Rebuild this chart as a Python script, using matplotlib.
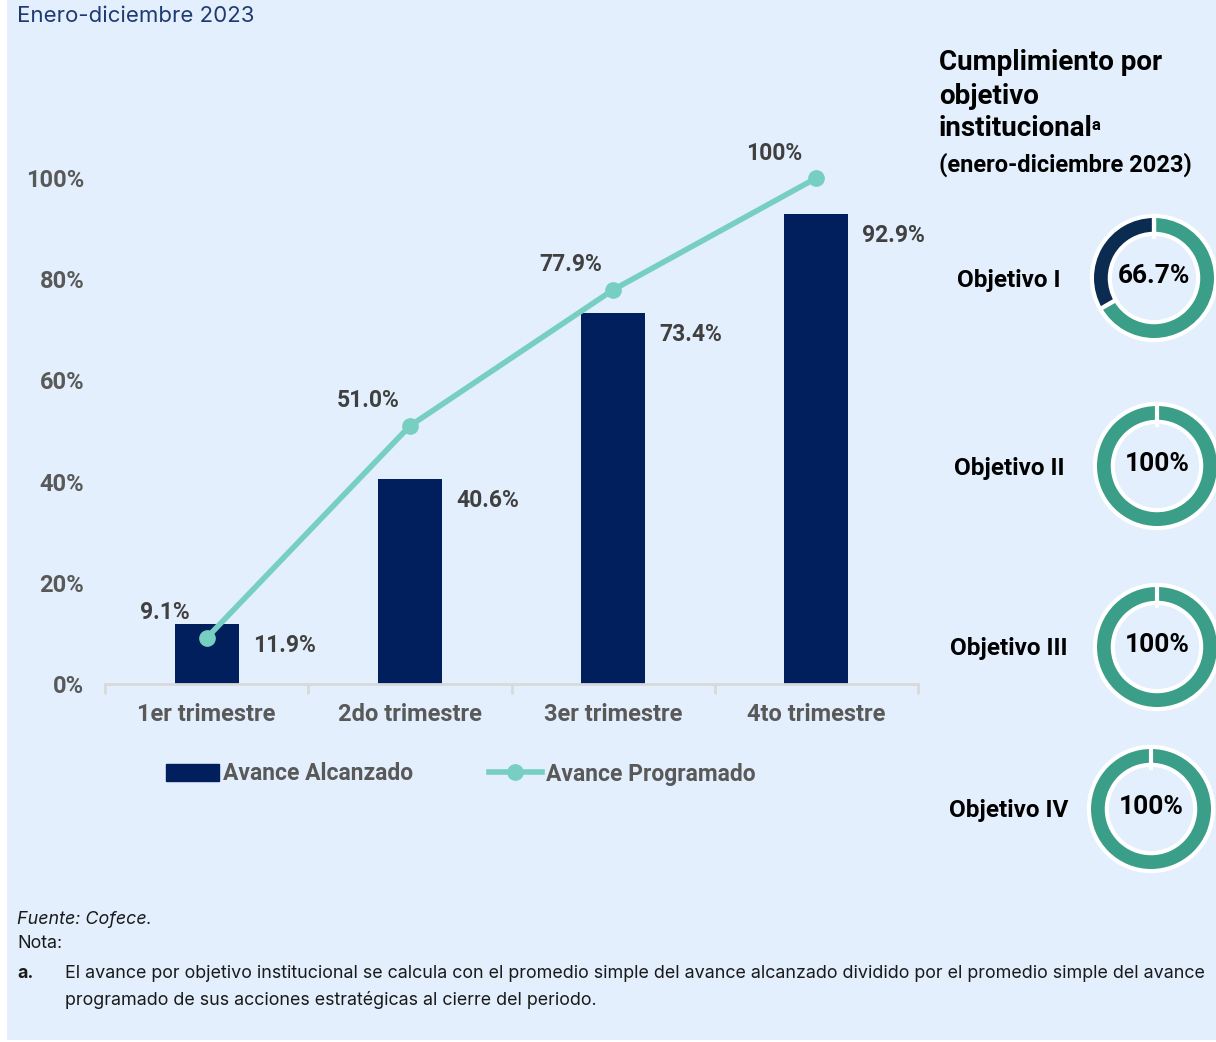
import matplotlib.pyplot as plt
from matplotlib.patches import Rectangle
from matplotlib.lines import Line2D
import numpy as np

trimestres = ['1er trimestre', '2do trimestre', '3er trimestre', '4to trimestre']
avance_alcanzado = [11.9, 40.6, 73.4, 92.9]
avance_programado = [9.1, 51.0, 77.9, 100.0]
objetivos = ['Objetivo I', 'Objetivo II', 'Objetivo III', 'Objetivo IV']
cumplimiento = [66.7, 100.0, 100.0, 100.0]
cumplimiento_txt = ['66.7%', '100%', '100%', '100%']

BG = '#E3EFFC'
NAVY = '#001F5C'
TEAL = '#76CFC0'
GREEN = '#3A9E88'
DARK = '#0B2C50'
GREY = '#595959'
BOLDF = 'Roboto'
TXTF = 'Inter'

W, H = 1216, 1042
fig = plt.figure(figsize=(W / 100, H / 100), dpi=100)
fig.patch.set_facecolor('white')
fig.patches.append(Rectangle((7 / W, 2 / H), 1 - 7 / W, 1 - 2 / H, transform=fig.transFigure,
                             facecolor=BG, edgecolor='none', zorder=-10))


def fx(px):
    return px / W


def fy(py):
    return 1 - py / H


# main chart
ax = fig.add_axes([fx(105), fy(684), fx(918) - fx(105), fy(100) - fy(684)])
ax.set_facecolor('none')
x = np.arange(len(trimestres))
ax.bar(x, avance_alcanzado, width=0.315, color=NAVY, zorder=2)
ax.plot(x, avance_programado, color=TEAL, lw=4, marker='o', ms=11, zorder=3,
        solid_capstyle='round')
ax.set_xlim(-0.5, 3.5)
ax.set_ylim(0, 100 * 584 / 506)
ax.set_yticks([0, 20, 40, 60, 80, 100])
ax.set_yticklabels(['0%', '20%', '40%', '60%', '80%', '100%'])
ax.set_xticks(x)
ax.set_xticklabels(trimestres)
ax.set_xticks([-0.5, 0.5, 1.5, 2.5, 3.5], minor=True)
ax.tick_params(axis='x', which='major', length=0, pad=14)
ax.tick_params(axis='x', which='minor', length=7, width=2, color='#D9D9D9')
ax.tick_params(axis='y', length=0, pad=15)
for lab in ax.get_xticklabels() + ax.get_yticklabels():
    lab.set_fontfamily(BOLDF)
    lab.set_fontweight('bold')
    lab.set_fontsize(17)
    lab.set_color(GREY)
for s in ['top', 'right', 'left']:
    ax.spines[s].set_visible(False)
ax.spines['bottom'].set_color('#D9D9D9')
ax.spines['bottom'].set_linewidth(2)

for xi, v in zip(x, avance_alcanzado):
    ax.annotate(f'{v:.1f}%', (xi + 0.1575, v), xytext=(14, -22), textcoords='offset pixels',
                ha='left', va='center', fontsize=16.5, fontweight='bold', family=BOLDF, color='#404040')
for xi, v in zip(x, avance_programado):
    t = '100%' if v == 100 else f'{v:.1f}%'
    ax.annotate(t, (xi, v), xytext=(-42, 25), textcoords='offset pixels',
                ha='center', va='center', fontsize=16.5, fontweight='bold', family=BOLDF, color='#404040')

handles = [Rectangle((0, 0), 1, 1, color=NAVY),
           Line2D([], [], color=TEAL, lw=4, marker='o', ms=11)]
leg = fig.legend(handles, ['Avance Alcanzado', 'Avance Programado'], loc='center',
                 bbox_to_anchor=(fx(461), fy(774)), ncol=2, frameon=False,
                 prop={'family': BOLDF, 'weight': 'bold', 'size': 16.5},
                 handlelength=2.3, handletextpad=0.2, columnspacing=3.3)
for t in leg.get_texts():
    t.set_color(GREY)

# donuts
centers = [(1154, 278), (1157, 466), (1157, 647), (1151, 809)]
R = 64
for (cx, cy), name, val, txt in zip(centers, objetivos, cumplimiento, cumplimiento_txt):
    dax = fig.add_axes([fx(cx - R), fy(cy + R), fx(2 * R), 2 * R / H])
    dax.axis('off')
    vals = [val, 100 - val] if val < 100 else [val]
    dax.pie(vals, colors=[GREEN, DARK], startangle=90, counterclock=False, radius=0.97,
            wedgeprops=dict(width=0.28, edgecolor='white', linewidth=3))
    dax.plot([0, 0], [0.64, 1.0], color='white', lw=3)
    dax.set_xlim(-1, 1)
    dax.set_ylim(-1, 1)
    dax.set_aspect('equal')
    dax.text(0, 0.03, txt, ha='center', va='center', fontsize=19, fontweight='bold',
             family=BOLDF, color='black')
    fig.text(fx(1009), fy(cy + 2), name, ha='center', va='center', fontsize=17.5,
             fontweight='bold', family=BOLDF, color='black')

# titles and notes
fig.text(fx(17), fy(16), 'Enero-diciembre 2023', ha='left', va='center', fontsize=16,
         family=TXTF, color='#1F3A73')
fig.text(fx(939), fy(63), 'Cumplimiento por', ha='left', va='center', fontsize=20,
         fontweight='bold', family=BOLDF, color='black')
fig.text(fx(939), fy(96), 'objetivo', ha='left', va='center', fontsize=20,
         fontweight='bold', family=BOLDF, color='black')
t = fig.text(fx(939), fy(128), 'institucional', ha='left', va='center', fontsize=20,
             fontweight='bold', family=BOLDF, color='black')
bb = t.get_window_extent(renderer=fig.canvas.get_renderer())
fig.text(bb.x1 / W - 1 / W, fy(126), 'a', ha='left', va='center', fontsize=12,
         fontweight='bold', family=BOLDF, color='black')
fig.text(fx(939), fy(165), '(enero-diciembre 2023)', ha='left', va='center', fontsize=17,
         fontweight='bold', family=BOLDF, color='black')

fs = 12.9
fig.text(fx(17), fy(919), 'Fuente: Cofece.', ha='left', va='center', fontsize=fs,
         style='italic', family=TXTF, color='#1a1a1a')
fig.text(fx(17), fy(944), 'Nota:', ha='left', va='center', fontsize=fs,
         family=TXTF, color='#1a1a1a')
fig.text(fx(17), fy(973), 'a.', ha='left', va='center', fontsize=fs, fontweight='bold',
         family=TXTF, color='#1a1a1a')
fig.text(fx(65), fy(973), 'El avance por objetivo institucional se calcula con el promedio simple del '
         'avance alcanzado dividido por el promedio simple del avance', ha='left', va='center',
         fontsize=fs, family=TXTF, color='#1a1a1a')
fig.text(fx(65), fy(1000), 'programado de sus acciones estratégicas al cierre del periodo.',
         ha='left', va='center', fontsize=fs, family=TXTF, color='#1a1a1a')

fig.savefig('out.png', dpi=100, facecolor=fig.get_facecolor())
